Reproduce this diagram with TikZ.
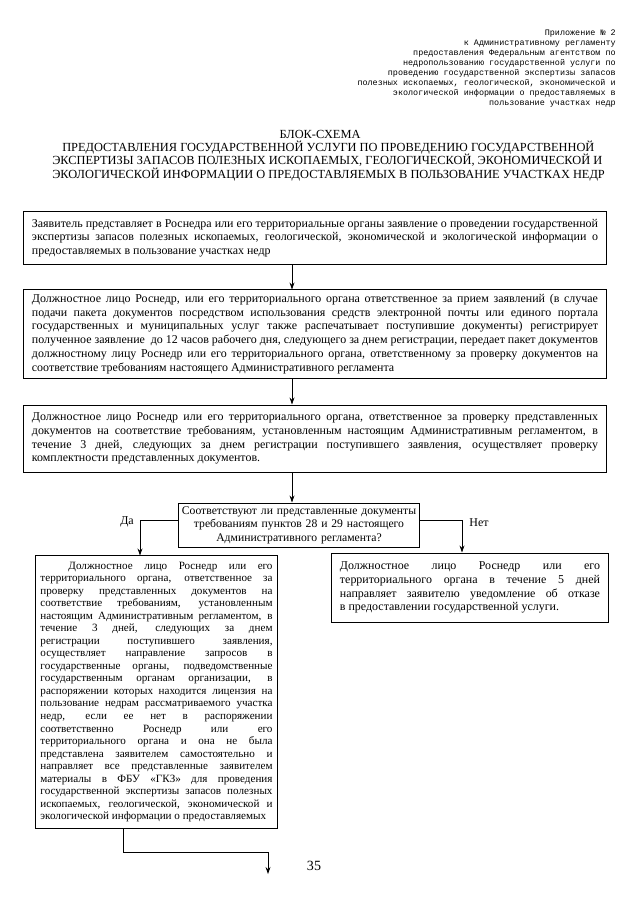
\documentclass[tikz,border=0pt]{standalone}
\usepackage{fontspec}
\setmainfont{Liberation Serif}
\newfontfamily\monofont{Liberation Mono}
\usetikzlibrary{arrows.meta}

\begin{document}
\begin{tikzpicture}[x=0.025cm,y=-0.025cm,>={Stealth[length=5pt,width=3.5pt]},
    blok/.style={draw,line width=0.7pt,inner xsep=0.2cm,inner ysep=2pt,align=justify,font=\fontsize{8.5}{9.8}\selectfont},
    strelka/.style={->,line width=0.6pt}]
    \useasboundingbox (0,0) rectangle (640,905);
    \fill[white] (0,0) rectangle (640,905);

    % шапка
    \node[anchor=north east,align=right,inner sep=0pt,font=\monofont\fontsize{6}{7.1}\selectfont] (prilozh) at (616,30)
      {Приложение № 2\\ к Административному регламенту\\ предоставления Федеральным агентством по\\
       недропользованию государственной услуги по\\ проведению государственной экспертизы запасов\\
       полезных ископаемых, геологической, экономической и\\ экологической информации о предоставляемых в\\
       пользование участках недр};

    \node[font=\fontsize{8.8}{9.4}\selectfont] (blokshema) at (320,134) {БЛОК-СХЕМА};
    \node[anchor=north west,align=left,inner sep=0pt,font=\fontsize{8.8}{9.4}\selectfont] (titul) at (52,141)
      {\hspace*{0.25cm}ПРЕДОСТАВЛЕНИЯ ГОСУДАРСТВЕННОЙ УСЛУГИ ПО ПРОВЕДЕНИЮ ГОСУДАРСТВЕННОЙ\\
       ЭКСПЕРТИЗЫ ЗАПАСОВ ПОЛЕЗНЫХ ИСКОПАЕМЫХ, ГЕОЛОГИЧЕСКОЙ, ЭКОНОМИЧЕСКОЙ И\\
       ЭКОЛОГИЧЕСКОЙ ИНФОРМАЦИИ О ПРЕДОСТАВЛЯЕМЫХ В ПОЛЬЗОВАНИЕ УЧАСТКАХ НЕДР};

    % блоки
    \node[blok,text width=14.15cm,minimum height=1.3cm] (zayav) at (315,238)
      {Заявитель представляет в Роснедра или его территориальные органы заявление о проведении государственной\linebreak
       экспертизы запасов полезных ископаемых, геологической, экономической и экологической информации о\linebreak
       предоставляемых в пользование участках недр};

    \node[blok,text width=14.15cm,minimum height=2.2cm] (priem) at (315,334)
      {Должностное лицо Роснедр, или его территориального органа ответственное за прием заявлений (в случае\linebreak
       подачи пакета документов посредством использования средств электронной почты или единого портала\linebreak
       государственных и муниципальных услуг также распечатывает поступившие документы) регистрирует\linebreak
       полученное заявление~ до 12 часов рабочего дня, следующего за днем регистрации, передает пакет документов\linebreak
       должностному лицу Роснедр или его территориального органа, ответственному за проверку документов на\linebreak
       соответствие требованиям настоящего Административного регламента};

    \node[blok,text width=14.15cm,minimum height=1.675cm] (proverka) at (315,438.5)
      {Должностное лицо Роснедр или его территориального органа, ответственное за проверку представленных\linebreak
       документов на соответствие требованиям, установленным настоящим Административным регламентом, в\linebreak
       течение 3 дней, следующих за днем регистрации поступившего заявления, осуществляет проверку\linebreak
       комплектности представленных документов.};

    \node[blok,align=center,text width=5.9cm,inner xsep=0.07cm,minimum height=1.1cm,font=\fontsize{8.3}{9.6}\selectfont] (vopros) at (299,525)
      {Соответствуют ли представленные документы\\ требованиям пунктов 28 и 29 настоящего\\ Административного регламента?};

    \node[blok,text width=5.8cm,minimum height=6.8cm,inner xsep=0.12cm,font=\fontsize{7.9}{8.9}\selectfont] (napravl) at (156.5,692)
      {\hspace*{0.7cm}Должностное лицо Роснедр или его\linebreak
       территориального органа, ответственное за\linebreak
       проверку представленных документов на\linebreak
       соответствие требованиям, установленным\linebreak
       настоящим Административным регламентом, в\linebreak
       течение 3 дней, следующих за днем\linebreak
       регистрации поступившего заявления,\linebreak
       осуществляет направление запросов в\linebreak
       государственные органы, подведомственные\linebreak
       государственным органам организации, в\linebreak
       распоряжении которых находится лицензия на\linebreak
       пользование недрам рассматриваемого участка\linebreak
       недр, если ее нет в распоряжении\linebreak
       соответственно Роснедр или его\linebreak
       территориального органа и она не была\linebreak
       представлена заявителем самостоятельно и\linebreak
       направляет все представленные заявителем\linebreak
       материалы в ФБУ «ГКЗ» для проведения\linebreak
       государственной экспертизы запасов полезных\linebreak
       ископаемых, геологической, экономической и\linebreak
       экологической информации о предоставляемых};

    \node[blok,text width=6.5cm,minimum height=1.725cm] (otkaz) at (470,587.5)
      {Должностное лицо Роснедр или его\linebreak
       территориального органа в течение 5 дней\linebreak
       направляет заявителю уведомление об отказе\linebreak
       в предоставлении государственной услуги.};

    % связи
    \coordinate (os) at (292,0);
    \coordinate (da) at (140,520);
    \coordinate (net) at (462,520);
    \coordinate (povorot) at (123,852);
    \coordinate (dalee) at (268,874);

    \draw[strelka] (zayav.south -| os) -- (priem.north -| os);
    \draw[strelka] (priem.south -| os) -- (proverka.north -| os);
    \draw[strelka] (proverka.south -| os) -- (vopros.north -| os);
    \draw[strelka] (vopros.west |- da) -- (da) -- (napravl.north -| da);
    \draw[strelka] (vopros.east |- net) -- (net) -- (otkaz.north -| net);
    \draw[strelka] (napravl.south -| povorot) -- (povorot) -| (dalee);

    \node[font=\fontsize{8.5}{9.8}\selectfont] (nadpisDa) at (127,522) {Да};
    \node[font=\fontsize{8.5}{9.8}\selectfont] (nadpisNet) at (479,523) {Нет};

    \node[font=\fontsize{10}{12}\selectfont] (stranica) at (314,866) {35};
\end{tikzpicture}
\end{document}
